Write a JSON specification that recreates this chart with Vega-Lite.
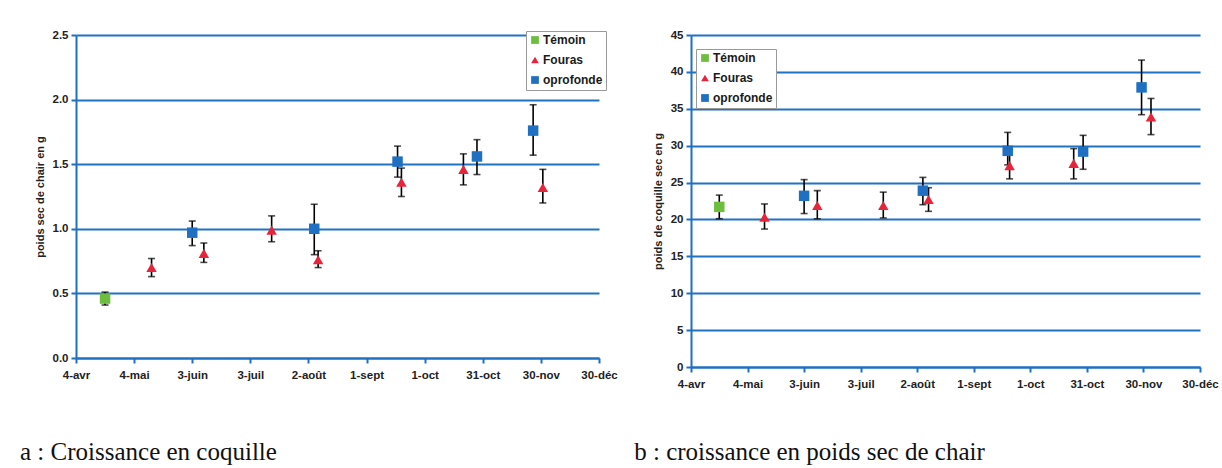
{
  "$schema": "https://vega.github.io/schema/vega-lite/v6.json",
  "padding": {"left": 20, "top": 29, "right": 5, "bottom": 0},
  "background": "white",
  "datasets": {
    "chair": [
      {"serie": "Témoin", "date": "2011-04-19", "valeur": 0.46, "bas": 0.41, "haut": 0.51},
      {"serie": "Fouras", "date": "2011-05-13", "valeur": 0.70, "bas": 0.63, "haut": 0.77},
      {"serie": "oprofonde", "date": "2011-06-03", "valeur": 0.97, "bas": 0.87, "haut": 1.06},
      {"serie": "Fouras", "date": "2011-06-09", "valeur": 0.81, "bas": 0.74, "haut": 0.89},
      {"serie": "Fouras", "date": "2011-07-14", "valeur": 0.99, "bas": 0.90, "haut": 1.10},
      {"serie": "oprofonde", "date": "2011-08-05", "valeur": 1.00, "bas": 0.80, "haut": 1.19},
      {"serie": "Fouras", "date": "2011-08-07", "valeur": 0.76, "bas": 0.70, "haut": 0.83},
      {"serie": "oprofonde", "date": "2011-09-17", "valeur": 1.52, "bas": 1.40, "haut": 1.64},
      {"serie": "Fouras", "date": "2011-09-19", "valeur": 1.36, "bas": 1.25, "haut": 1.47},
      {"serie": "Fouras", "date": "2011-10-21", "valeur": 1.46, "bas": 1.34, "haut": 1.58},
      {"serie": "oprofonde", "date": "2011-10-28", "valeur": 1.56, "bas": 1.42, "haut": 1.69},
      {"serie": "oprofonde", "date": "2011-11-26", "valeur": 1.76, "bas": 1.57, "haut": 1.96},
      {"serie": "Fouras", "date": "2011-12-01", "valeur": 1.32, "bas": 1.20, "haut": 1.46}
    ],
    "coquille": [
      {"serie": "Témoin", "date": "2011-04-19", "valeur": 21.7, "bas": 20.1, "haut": 23.3},
      {"serie": "Fouras", "date": "2011-05-13", "valeur": 20.3, "bas": 18.7, "haut": 22.1},
      {"serie": "oprofonde", "date": "2011-06-03", "valeur": 23.2, "bas": 20.8, "haut": 25.4},
      {"serie": "Fouras", "date": "2011-06-10", "valeur": 21.9, "bas": 20.1, "haut": 23.9},
      {"serie": "Fouras", "date": "2011-07-15", "valeur": 21.9, "bas": 20.2, "haut": 23.7},
      {"serie": "oprofonde", "date": "2011-08-05", "valeur": 23.9, "bas": 22.0, "haut": 25.7},
      {"serie": "Fouras", "date": "2011-08-08", "valeur": 22.7, "bas": 21.1, "haut": 24.3},
      {"serie": "oprofonde", "date": "2011-09-19", "valeur": 29.3, "bas": 27.4, "haut": 31.8},
      {"serie": "Fouras", "date": "2011-09-20", "valeur": 27.3, "bas": 25.5, "haut": 29.5},
      {"serie": "Fouras", "date": "2011-10-24", "valeur": 27.6, "bas": 25.5, "haut": 29.6},
      {"serie": "oprofonde", "date": "2011-10-29", "valeur": 29.2, "bas": 26.8, "haut": 31.4},
      {"serie": "oprofonde", "date": "2011-11-29", "valeur": 37.9, "bas": 34.2, "haut": 41.6},
      {"serie": "Fouras", "date": "2011-12-04", "valeur": 33.9, "bas": 31.5, "haut": 36.4}
    ]
  },
  "hconcat": [
    {
      "data": {"name": "chair"},
      "width": 523,
      "height": 323,
      "title": {"text": "a : Croissance en coquille", "orient": "bottom", "anchor": "start", "frame": "bounds", "dx": -14, "offset": 59},
      "encoding": {
        "x": {
          "field": "date", "type": "temporal", "title": null,
          "scale": {"type": "utc", "domain": [{"year": 2011, "month": 4, "date": 4, "utc": true}, {"year": 2011, "month": 12, "date": 30, "utc": true}]},
          "axis": {
            "values": [
              {"year": 2011, "month": 4, "date": 4, "utc": true},
              {"year": 2011, "month": 5, "date": 4, "utc": true},
              {"year": 2011, "month": 6, "date": 3, "utc": true},
              {"year": 2011, "month": 7, "date": 3, "utc": true},
              {"year": 2011, "month": 8, "date": 2, "utc": true},
              {"year": 2011, "month": 9, "date": 1, "utc": true},
              {"year": 2011, "month": 10, "date": 1, "utc": true},
              {"year": 2011, "month": 10, "date": 31, "utc": true},
              {"year": 2011, "month": 11, "date": 30, "utc": true},
              {"year": 2011, "month": 12, "date": 30, "utc": true}
            ],
            "labelExpr": "utcdate(datum.value) + '-' + ['janv','févr','mars','avr','mai','juin','juil','août','sept','oct','nov','déc'][utcmonth(datum.value)]",
            "grid": false
          }
        }
      },
      "layer": [
        {
          "mark": {"type": "errorbar", "color": "black", "thickness": 1.6, "ticks": {"size": 7, "thickness": 1.6, "color": "black"}},
          "encoding": {
            "y": {"field": "bas", "type": "quantitative", "title": "poids sec de chair en g", "scale": {"domain": [0, 2.5], "nice": false, "zero": true}, "axis": {"values": [0, 0.5, 1, 1.5, 2, 2.5], "format": ".1f"}},
            "y2": {"field": "haut"}
          }
        },
        {
          "mark": {"type": "point", "filled": true, "opacity": 1, "size": 110},
          "encoding": {
            "y": {"field": "valeur", "type": "quantitative", "title": "poids sec de chair en g", "scale": {"domain": [0, 2.5], "nice": false, "zero": true}, "axis": {"values": [0, 0.5, 1, 1.5, 2, 2.5], "format": ".1f"}},
            "color": {"field": "serie", "type": "nominal", "scale": {"domain": ["Témoin", "Fouras", "oprofonde"], "range": ["#6dbd3f", "#e8243a", "#1f6fc2"]}, "legend": {"orient": "none", "legendX": 450, "legendY": -4}},
            "shape": {"field": "serie", "type": "nominal", "scale": {"domain": ["Témoin", "Fouras", "oprofonde"], "range": ["square", "triangle-up", "square"]}, "legend": {"orient": "none", "legendX": 450, "legendY": -4}}
          }
        }
      ]
    },
    {
      "data": {"name": "coquille"},
      "width": 509,
      "height": 332,
      "title": {"text": "b : croissance en poids sec de chair", "orient": "bottom", "anchor": "start", "frame": "bounds", "dx": -18, "offset": 50},
      "encoding": {
        "x": {
          "field": "date", "type": "temporal", "title": null,
          "scale": {"type": "utc", "domain": [{"year": 2011, "month": 4, "date": 4, "utc": true}, {"year": 2011, "month": 12, "date": 30, "utc": true}]},
          "axis": {
            "values": [
              {"year": 2011, "month": 4, "date": 4, "utc": true},
              {"year": 2011, "month": 5, "date": 4, "utc": true},
              {"year": 2011, "month": 6, "date": 3, "utc": true},
              {"year": 2011, "month": 7, "date": 3, "utc": true},
              {"year": 2011, "month": 8, "date": 2, "utc": true},
              {"year": 2011, "month": 9, "date": 1, "utc": true},
              {"year": 2011, "month": 10, "date": 1, "utc": true},
              {"year": 2011, "month": 10, "date": 31, "utc": true},
              {"year": 2011, "month": 11, "date": 30, "utc": true},
              {"year": 2011, "month": 12, "date": 30, "utc": true}
            ],
            "labelExpr": "utcdate(datum.value) + '-' + ['janv','févr','mars','avr','mai','juin','juil','août','sept','oct','nov','déc'][utcmonth(datum.value)]",
            "grid": false
          }
        }
      },
      "layer": [
        {
          "mark": {"type": "errorbar", "color": "black", "thickness": 1.6, "ticks": {"size": 7, "thickness": 1.6, "color": "black"}},
          "encoding": {
            "y": {"field": "bas", "type": "quantitative", "title": "poids de coquille sec en g", "scale": {"domain": [0, 45], "nice": false, "zero": true}, "axis": {"values": [0, 5, 10, 15, 20, 25, 30, 35, 40, 45], "format": "d"}},
            "y2": {"field": "haut"}
          }
        },
        {
          "mark": {"type": "point", "filled": true, "opacity": 1, "size": 110},
          "encoding": {
            "y": {"field": "valeur", "type": "quantitative", "title": "poids de coquille sec en g", "scale": {"domain": [0, 45], "nice": false, "zero": true}, "axis": {"values": [0, 5, 10, 15, 20, 25, 30, 35, 40, 45], "format": "d"}},
            "color": {"field": "serie", "type": "nominal", "scale": {"domain": ["Témoin", "Fouras", "oprofonde"], "range": ["#6dbd3f", "#e8243a", "#1f6fc2"]}, "legend": {"orient": "none", "legendX": 5, "legendY": 14}},
            "shape": {"field": "serie", "type": "nominal", "scale": {"domain": ["Témoin", "Fouras", "oprofonde"], "range": ["square", "triangle-up", "square"]}, "legend": {"orient": "none", "legendX": 5, "legendY": 14}}
          }
        }
      ]
    }
  ],
  "spacing": 16,
  "resolve": {"scale": {"y": "independent", "color": "independent", "shape": "independent"}, "legend": {"color": "independent", "shape": "independent"}},
  "config": {
    "view": {"stroke": null},
    "font": "Liberation Sans",
    "axis": {
      "labelFont": "Liberation Sans", "labelFontWeight": "bold", "labelFontSize": 11.5, "labelColor": "#222222",
      "titleFont": "Liberation Sans", "titleFontWeight": "bold", "titleFontSize": 11, "titleColor": "#222222",
      "domainColor": "#1f6fc2", "domainWidth": 2, "tickColor": "#1f6fc2", "tickWidth": 2, "tickSize": 5,
      "gridColor": "#1f72c4", "gridWidth": 2, "gridOpacity": 1
    },
    "axisX": {"labelPadding": 6, "labelFlush": false},
    "axisY": {"grid": true, "titlePadding": 7, "labelPadding": 3},
    "legend": {
      "title": null, "labelFont": "Liberation Sans", "labelFontWeight": "bold", "labelFontSize": 12, "labelColor": "#1a1a1a",
      "strokeColor": "#9a9a9a", "fillColor": "white", "padding": 3, "rowPadding": 6, "symbolSize": 60, "labelOffset": 2, "symbolOpacity": 1
    },
    "title": {"font": "Liberation Serif", "fontSize": 25, "fontWeight": "normal", "color": "#111111"}
  }
}
